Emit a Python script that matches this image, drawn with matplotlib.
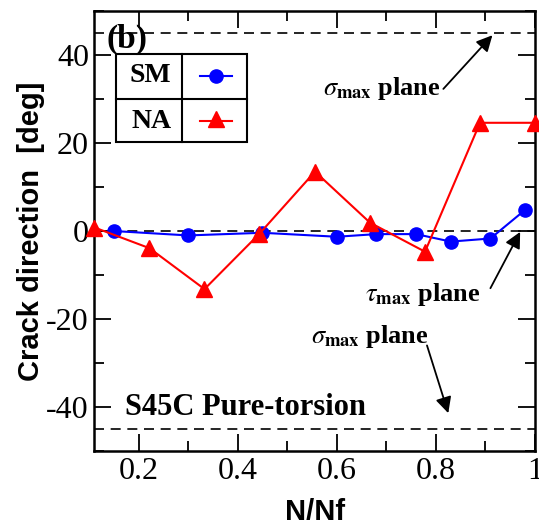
import matplotlib
matplotlib.use("Agg")
import matplotlib.pyplot as plt
from matplotlib.patches import Rectangle
from matplotlib.lines import Line2D
from matplotlib.ticker import MultipleLocator, FuncFormatter

plt.rcParams['font.family'] = 'Liberation Serif'
plt.rcParams['mathtext.fontset'] = 'stix'
plt.rcParams['axes.unicode_minus'] = False

# crack direction vs life fraction
sm_x = [0.15, 0.30, 0.45, 0.60, 0.68, 0.76, 0.83, 0.91, 0.98]
sm_y = [0.0, -1.0, -0.4, -1.3, -0.7, -0.7, -2.4, -1.7, 4.8]
na_x = [0.111, 0.222, 0.333, 0.444, 0.556, 0.667, 0.778, 0.889, 1.0]
na_y = [0.8, -3.9, -13.2, -0.6, 13.5, 1.9, -4.7, 24.6, 24.6]

ref_planes = [45, 0, -45]
x_ticks = [0.2, 0.4, 0.6, 0.8, 1.0]
y_ticks = [-40, -20, 0, 20, 40]

fig = plt.figure(figsize=(5.39, 5.28), dpi=100)
ax = fig.add_axes([0.1753, 0.1458, 0.8173, 0.8333])

for yv in ref_planes:
    ax.axhline(yv, color='k', lw=1.2, dashes=(6, 4), zorder=1)

ax.plot(sm_x, sm_y, color='#0000ff', lw=1.5, marker='o', ms=9.5, zorder=3, clip_on=False)
ax.plot(na_x, na_y, color='#ff0000', lw=1.5, marker='^', ms=11, zorder=4, clip_on=False)

ax.set_xlim(0.111, 1.0)
ax.set_ylim(-50, 50)
ax.set_xticks(x_ticks)
ax.set_yticks(y_ticks)
ax.xaxis.set_minor_locator(MultipleLocator(0.1))
ax.yaxis.set_minor_locator(MultipleLocator(10))
ax.xaxis.set_major_formatter(FuncFormatter(lambda v, p: '%g' % v))
ax.yaxis.set_major_formatter(FuncFormatter(lambda v, p: '%d' % v))
ax.tick_params(which='both', direction='in', top=True, right=True, width=1.3,
               labelsize=23, pad=4)
ax.tick_params(which='major', length=12)
ax.tick_params(which='minor', length=7)
for s in ax.spines.values():
    s.set_linewidth(1.8)

ax.set_xlabel('N/Nf', family='Liberation Sans', fontweight='bold', fontsize=21, labelpad=9)
ax.set_ylabel('Crack direction  [deg]', family='Liberation Sans', fontweight='bold',
              fontsize=21, labelpad=1)

# panel tag
ax.text(0.028, 0.936, '(b)', transform=ax.transAxes, fontsize=24, fontweight='bold',
        ha='left', va='center')

# table-style legend
tr = ax.transAxes
ax.add_patch(Rectangle((0.049, 0.702), 0.297, 0.200, transform=tr, fill=False,
                       lw=1.5, ec='k', zorder=5))
ax.add_line(Line2D([0.199, 0.199], [0.702, 0.902], transform=tr, color='k', lw=1.5, zorder=5))
ax.add_line(Line2D([0.049, 0.346], [0.800, 0.800], transform=tr, color='k', lw=1.5, zorder=5))
ax.text(0.127, 0.853, 'SM', transform=tr, fontsize=20, fontweight='bold', ha='center', va='center')
ax.text(0.130, 0.750, 'NA', transform=tr, fontsize=20, fontweight='bold', ha='center', va='center')
ax.add_line(Line2D([0.240, 0.312], [0.853, 0.853], transform=tr, color='#0000ff', lw=1.5, zorder=5))
ax.add_line(Line2D([0.276], [0.853], transform=tr, color='#0000ff', marker='o', ms=9.5, zorder=6))
ax.add_line(Line2D([0.240, 0.312], [0.750, 0.750], transform=tr, color='#ff0000', lw=1.5, zorder=5))
ax.add_line(Line2D([0.276], [0.754], transform=tr, color='#ff0000', marker='^', ms=11, zorder=6))

arrow = dict(arrowstyle='-|>', color='k', lw=1.3, mutation_scale=24, shrinkA=0, shrinkB=0)
lbl = dict(fontsize=19, fontweight='bold')

ax.annotate('', xy=(0.914, 44.5), xytext=(0.815, 32.3), arrowprops=arrow)
ax.text(0.810, 32.3, r'$\sigma_{\mathbf{max}}$ plane', ha='right', va='center', **lbl)

ax.annotate('', xy=(0.970, -0.2), xytext=(0.910, -13.0), arrowprops=arrow)
ax.text(0.890, -14.5, r'$\tau_{\mathbf{max}}$ plane', ha='right', va='center', **lbl)

ax.annotate('', xy=(0.825, -41.4), xytext=(0.782, -26.0), arrowprops=arrow)
ax.text(0.548, -24.0, r'$\sigma_{\mathbf{max}}$ plane', ha='left', va='center', **lbl)

ax.text(0.172, -40.0, 'S45C Pure-torsion', ha='left', va='center', fontsize=22,
        fontweight='bold')

fig.savefig('out.png', dpi=100)
